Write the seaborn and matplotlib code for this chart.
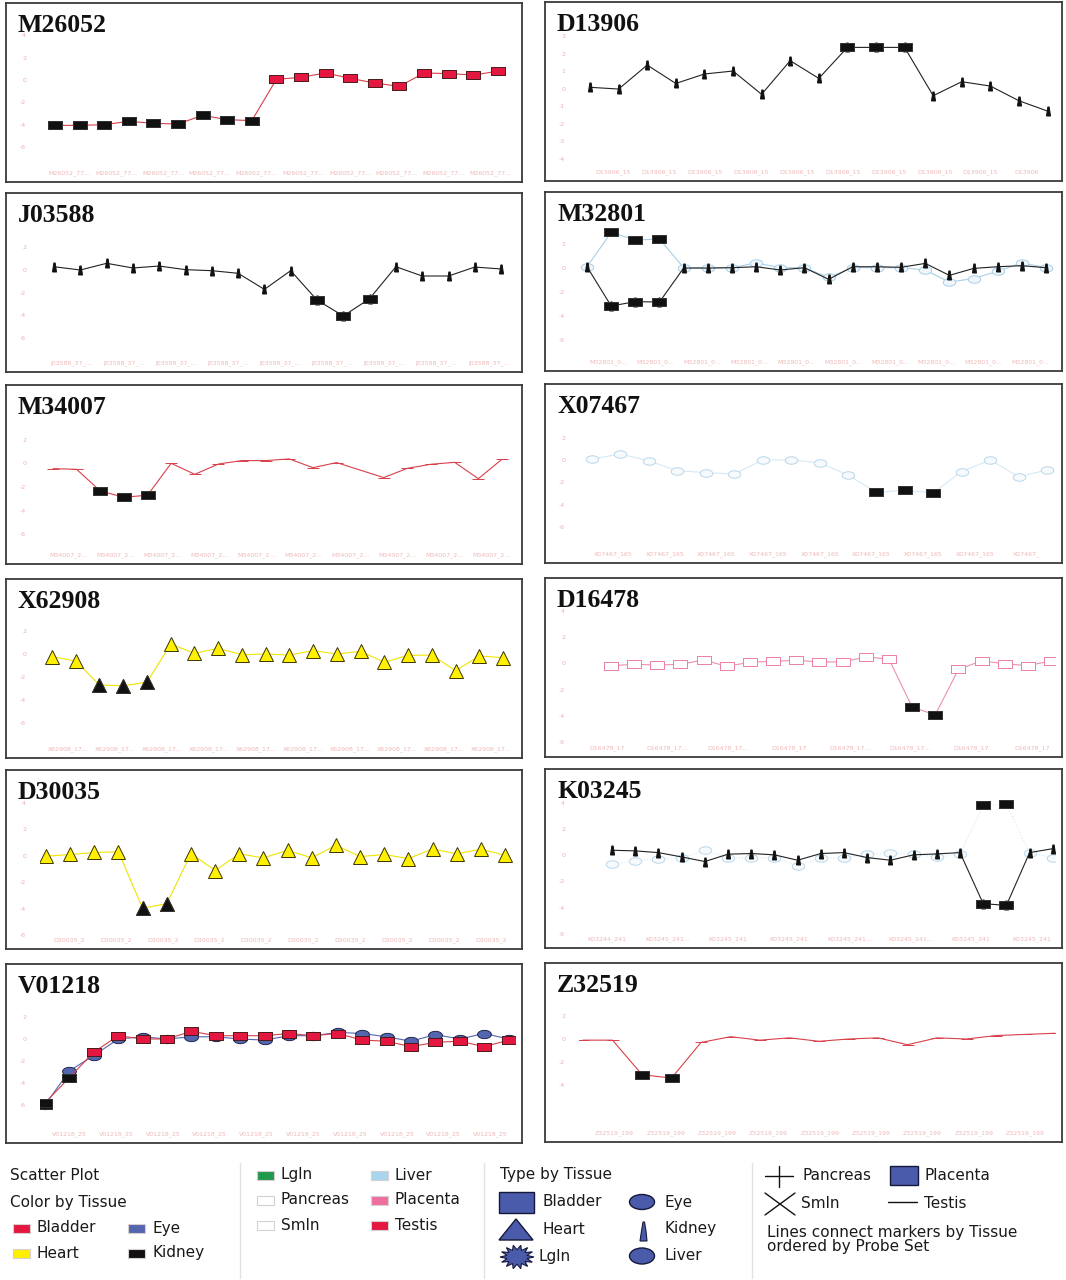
import numpy as np
import pandas as pd
import seaborn as sns
import matplotlib.pyplot as plt
from matplotlib.patches import Rectangle, Polygon, Ellipse

sns.set_theme(style="white")
plt.rcParams['font.family'] = ['DejaVu Sans']

W, H = 1066, 1280

# ---------------------------------------------------------------------------
# data: expression log ratio per probe set, in probe order
# ---------------------------------------------------------------------------
m26052_bladder = [-4.06, -4.06, -4.0, -3.7, -3.88, -3.94, -3.16, -3.55, -3.64,
                  0.06, 0.24, 0.63, 0.15, -0.27, -0.57, 0.63, 0.57, 0.45, 0.78]
m26052_dark = [0, 1, 2, 3, 4, 5, 6, 7, 8]

d13906_kidney = [0.08, -0.02, 1.35, 0.30, 0.84, 1.01, -0.32, 1.60, 0.59,
                 2.36, 2.36, 2.36, -0.40, 0.40, 0.15, -0.69, -1.28]
d13906_dark = [9, 10, 11]

j03588_kidney = [0.29, 0.0, 0.59, 0.18, 0.35, 0.03, -0.06, -0.29, -1.71,
                 -0.06, -2.65, -4.06, -2.53, 0.29, -0.53, -0.53, 0.26, 0.09]
j03588_dark = [10, 11, 12]

m32801_kidney = [0.08, -3.19, -2.83, -2.86, -0.03, -0.03, 0.0, 0.08, -0.19, 0.0,
                 -0.97, 0.08, 0.08, 0.03, 0.36, -0.64, -0.06, 0.08, 0.17, 0.0]
m32801_liver = [0.08, 2.94, 2.31, 2.39, 0.0, 0.0, 0.0, 0.4, 0.0, 0.0,
                -0.8, 0.0, 0.0, 0.0, -0.2, -1.2, -0.9, -0.3, 0.4, 0.0]
m32801_dark = [1, 2, 3]

m34007_probe = [0, 1, 2, 3, 4, 5, 6, 7, 8, 9, 10, 11, 12, 14, 15, 16, 17, 18, 19]
m34007_testis = [-0.45, -0.51, -2.34, -2.87, -2.70, 0.0, -0.93, -0.06, 0.23, 0.23,
                 0.37, -0.37, 0.06, -1.21, -0.42, -0.08, 0.08, -1.30, 0.34]
m34007_dark = [2, 3, 4]

x07467_liver = [0.09, 0.54, -0.09, -0.95, -1.13, -1.25, 0.0, 0.0, -0.24,
                -1.34, -2.89, -2.71, -2.92, -1.04, 0.0, -1.49, -0.89]
x07467_dark = [10, 11, 12]

x62908_heart = [-0.23, -0.61, -2.70, -2.75, -2.46, 0.87, 0.06, 0.49, -0.06, 0.0,
                -0.09, 0.29, 0.0, 0.23, -0.72, -0.12, -0.09, -1.45, -0.17, -0.32]
x62908_dark = [2, 3, 4]

d16478_placenta = [-0.18, -0.08, -0.13, -0.08, 0.25, -0.23, 0.08, 0.15, 0.23, 0.10,
                   0.10, 0.48, 0.33, -3.32, -3.92, -0.46, 0.18, -0.03, -0.18, 0.18]
d16478_dark = [13, 14]

d30035_heart = [-0.05, 0.08, 0.23, 0.28, -3.98, -3.63, 0.15, -1.13, 0.13, -0.18,
                0.40, -0.18, 0.78, -0.08, 0.08, -0.23, 0.50, 0.13, 0.48, 0.03]
d30035_dark = [4, 5]

k03245_kidney = [0.38, 0.33, 0.20, -0.13, -0.48, 0.08, 0.13, 0.03, -0.38, 0.13,
                 0.20, -0.18, -0.38, 0.03, 0.10, 0.20, -3.69, -3.82, 0.20, 0.50]
k03245_liver = [-0.68, -0.43, -0.30, -0.18, 0.38, -0.18, -0.23, -0.18, -0.80, -0.18,
                -0.23, 0.08, 0.20, 0.08, -0.13, 0.08, 3.79, 3.89, 0.20, -0.18]
k03245_dark = [16, 17]

v01218_bladder = [-5.8, -3.5, -1.2, 0.3, 0.0, 0.0, 0.7, 0.3, 0.3, 0.3,
                  0.5, 0.3, 0.5, -0.1, -0.2, -0.7, -0.3, -0.2, -0.7, -0.1]
v01218_eye = [-6.0, -2.9, -1.5, 0.0, 0.2, 0.0, 0.2, 0.2, 0.0, -0.1,
              0.3, 0.3, 0.6, 0.5, 0.2, -0.2, 0.4, 0.0, 0.5, 0.0]
v01218_dark = [0, 1]

z32519_testis = [-0.1, -0.1, -3.1, -3.4, -0.3, 0.2, -0.1, 0.1, -0.2,
                 0.0, 0.1, -0.5, 0.1, 0.0, 0.3, 0.4, 0.5]
z32519_dark = [2, 3]

# probe-set axis labels (truncated as in the viewer)
xlabels = {
    'M26052': ['M26052_77...'] * 10,
    'D13906': ['D13906_15'] * 9 + ['D13906'],
    'J03588': ['J03588_37_...'] * 9,
    'M32801': ['M32801_0...'] * 10,
    'M34007': ['M34007_2...'] * 10,
    'X07467': ['X07467_165'] * 8 + ['X07467_'],
    'X62908': ['X62908_17...'] * 10,
    'D16478': ['D16478_17', 'D16478_17...', 'D16478_17...', 'D16478_17',
               'D16478_17...', 'D16478_17...', 'D16478_17', 'D16478_17'],
    'D30035': ['D30035_2'] * 10,
    'K03245': ['K03244_241', 'K03245_241...', 'K03245_241', 'K03245_241',
               'K03245_241...', 'K03245_241...', 'K03245_241', 'K03245_241'],
    'V01218': ['V01218_25'] * 10,
    'Z32519': ['Z32519_199'] * 9,
}

yticks = {
    'M26052': [4, 2, 0, -2, -4, -6], 'D13906': [4, 3, 2, 1, 0, -1, -2, -3, -4],
    'J03588': [2, 0, -2, -4, -6], 'M32801': [4, 2, 0, -2, -4, -6],
    'M34007': [2, 0, -2, -4, -6], 'X07467': [4, 2, 0, -2, -4, -6],
    'X62908': [2, 0, -2, -4, -6], 'D16478': [4, 2, 0, -2, -4, -6],
    'D30035': [4, 2, 0, -2, -4, -6], 'K03245': [4, 2, 0, -2, -4, -6],
    'V01218': [4, 2, 0, -2, -4, -6], 'Z32519': [2, 0, -2, -4],
}

# ---------------------------------------------------------------------------
# styles
# ---------------------------------------------------------------------------
TISSUE = {
    'Bladder': '#e3173f', 'Eye': '#5566b0', 'Heart': '#fff000', 'Kidney': '#111111',
    'Lgln': '#1f9a4c', 'Pancreas': '#ffffff', 'Smln': '#ffffff',
    'Liver': '#a8d6ef', 'Placenta': '#ee6f9f', 'Testis': '#e3173f',
}

t = np.linspace(0, 2 * np.pi, 25)
ELLIPSE = list(zip(np.cos(t), 0.6 * np.sin(t)))
RECT = [(-1, -0.62), (1, -0.62), (1, 0.62), (-1, 0.62), (-1, -0.62)]
KIDNEY = [(-0.45, -1), (0.45, -1), (0.15, 1), (-0.15, 1), (-0.45, -1)]

STYLE = {
    'bladder': dict(color='#d8404a', marker=RECT, ms=10, mfc=TISSUE['Bladder'], mec='#4a1a1a'),
    'kidney': dict(color='#222222', marker=KIDNEY, ms=6.5, mfc='#111111', mec='#111111'),
    'liver': dict(color='#a9cfe6', marker=ELLIPSE, ms=9, mfc='#eef6fb', mec='#a9cfe6'),
    'liver_faint': dict(color='#d6e9f5', marker=ELLIPSE, ms=9, mfc='#f6fafd', mec='#b9d7ea'),
    'testis': dict(color='#d8404a', marker='_', ms=9, mfc='none', mec='#d8404a'),
    'heart': dict(color='#f0e400', marker='^', ms=10, mfc=TISSUE['Heart'], mec='#3a3300'),
    'placenta': dict(color='#ec8fae', marker=RECT, ms=10, mfc='white', mec='#ec7fa4'),
    'eye': dict(color='#5566b0', marker=ELLIPSE, ms=10, mfc=TISSUE['Eye'], mec='#202850'),
}

# panel layout: column, frame top (px), zero line offset (px), px per unit,
# first probe x (px), probe spacing (px)
LAYOUT = {
    'M26052': (0, 3, 77, 11.17, 55, 24.6),
    'D13906': (1, 2, 86.7, 17.5, 590, 28.6),
    'J03588': (0, 193, 77, 11.33, 54, 26.3),
    'M32801': (1, 192, 75.7, 12.0, 587, 24.16),
    'M34007': (0, 385, 78.3, 11.83, 53, 23.63),
    'X07467': (1, 384, 76, 11.2, 592, 28.44),
    'X62908': (0, 579, 75, 11.5, 52, 23.74),
    'D16478': (1, 578, 85.3, 13.17, 611, 23.16),
    'D30035': (0, 770, 86, 13.33, 46, 24.16),
    'K03245': (1, 769, 87, 13.27, 612, 23.2),
    'V01218': (0, 964, 75, 11.0, 45, 24.4),
    'Z32519': (1, 963, 76, 11.5, 583, 29.5),
}

# series drawn in each panel: (values, probe positions, style, dark-marker indices, linestyle)
SERIES = {
    'M26052': [(m26052_bladder, None, 'bladder', m26052_dark, '-')],
    'D13906': [(d13906_kidney, None, 'kidney', d13906_dark, '-')],
    'J03588': [(j03588_kidney, None, 'kidney', j03588_dark, '-')],
    'M32801': [(m32801_liver, None, 'liver', m32801_dark, '-'),
               (m32801_kidney, None, 'kidney', m32801_dark, '-')],
    'M34007': [(m34007_testis, m34007_probe, 'testis', m34007_dark, '-')],
    'X07467': [(x07467_liver, None, 'liver_faint', x07467_dark, '-')],
    'X62908': [(x62908_heart, None, 'heart', x62908_dark, '-')],
    'D16478': [(d16478_placenta, None, 'placenta', d16478_dark, '-')],
    'D30035': [(d30035_heart, None, 'heart', d30035_dark, '-')],
    'K03245': [(k03245_liver, None, 'liver_faint', k03245_dark, ':'),
               (k03245_kidney, None, 'kidney', k03245_dark, '-')],
    'V01218': [(v01218_eye, None, 'eye', [0], '-'),
               (v01218_bladder, None, 'bladder', v01218_dark, '-')],
    'Z32519': [(z32519_testis, None, 'testis', z32519_dark, '-')],
}

FRAME_X = [(6, 516), (545, 517)]
FRAME_H = 179
INNER_X = [(40, 515), (579, 1055)]
INNER_TOP, INNER_BOT = 15, 165
TITLE_CLEAR = 32   # tick labels above this offset sit behind the panel title


def draw_series(ax, values, probes, style, dark, ls):
    st = STYLE[style]
    x = probes if probes is not None else list(range(len(values)))
    df = pd.DataFrame({'probe': x, 'value': values})
    sns.lineplot(data=df, x='probe', y='value', ax=ax, color=st['color'],
                 lw=0.8, ls=ls, errorbar=None, marker=st['marker'],
                 markersize=st['ms'], markerfacecolor=st['mfc'],
                 markeredgecolor=st['mec'], markeredgewidth=0.7, zorder=2)
    dk = df.iloc[dark]
    dmark = '^' if style == 'heart' else RECT
    ax.plot(dk['probe'], dk['value'], ls='none', marker=dmark, ms=10,
            mfc='#111111', mec='#333333', mew=0.7, zorder=3)


fig = plt.figure(figsize=(W / 100, H / 100), dpi=100)
fig.patch.set_facecolor('white')

for name, (col, top, zero, ppu, p0, d) in LAYOUT.items():
    fx, fw = FRAME_X[col]
    frame = fig.add_axes([fx / W, 1 - (top + FRAME_H) / H, fw / W, FRAME_H / H])
    frame.set_xticks([])
    frame.set_yticks([])
    frame.set_facecolor('white')
    for sp in frame.spines.values():
        sp.set_color('#3a3a3a')
        sp.set_linewidth(1.3)
    frame.text(12 / fw, 1 - 29 / FRAME_H, name, transform=frame.transAxes,
               ha='left', va='baseline', fontfamily='Liberation Serif',
               fontweight='bold', fontsize=18.5, color='#111111')

    ix0, ix1 = INNER_X[col]
    ax = fig.add_axes([ix0 / W, 1 - (top + INNER_BOT) / H,
                       (ix1 - ix0) / W, (INNER_BOT - INNER_TOP) / H])
    ax.set_facecolor('none')
    for s in SERIES[name]:
        draw_series(ax, *s)
    ax.set_xlim((ix0 - p0) / d, (ix1 - p0) / d)
    ax.set_ylim(-(INNER_BOT - zero) / ppu, (zero - INNER_TOP) / ppu)
    ticks = [v for v in yticks[name] if zero - v * ppu >= TITLE_CLEAR]
    ax.set_yticks(ticks)
    ax.set_yticklabels([str(v) for v in ticks])
    labs = xlabels[name]
    lo, hi = ax.get_xlim()
    ax.set_xticks(np.linspace(lo + 1.2, hi - 1.0, len(labs)))
    ax.set_xticklabels(labs)
    ax.tick_params(axis='y', length=0, pad=10, labelsize=4.5, labelcolor='#eeb0b0')
    ax.tick_params(axis='x', length=0, pad=2, labelsize=4.5, labelcolor='#efb8b8')
    ax.set_xlabel('')
    ax.set_ylabel('')
    for sp in ax.spines.values():
        sp.set_visible(False)

# ---------------------------------------------------------------------------
# legend strip
# ---------------------------------------------------------------------------
lg = fig.add_axes([0, 0, 1, 125 / H])
lg.set_xlim(0, W)
lg.set_ylim(1280, 1155)
lg.axis('off')
TXT = dict(fontsize=11, color='#1a1a1a', va='center', ha='left')

lg.text(10, 1175, 'Scatter Plot', **TXT)
lg.text(10, 1202, 'Color by Tissue', **TXT)

swatches = [('Bladder', 13, 1228), ('Eye', 128, 1228), ('Heart', 13, 1253),
            ('Kidney', 128, 1253), ('Lgln', 257, 1175), ('Pancreas', 257, 1200),
            ('Smln', 257, 1225), ('Liver', 371, 1175), ('Placenta', 371, 1200),
            ('Testis', 371, 1225)]
for lab, x, y in swatches:
    lg.add_patch(Rectangle((x, y - 4.5), 17, 9, facecolor=TISSUE[lab],
                           edgecolor='#d8d0d0', lw=0.8))
    lg.text(x + 24, y, lab, **TXT)

for sx in (240, 484, 752):
    lg.plot([sx, sx], [1163, 1278], color='#e2e2e2', lw=1)

BLUE, BEDGE = '#4a5bab', '#15183a'
lg.text(500, 1175, 'Type by Tissue', **TXT)
lg.add_patch(Rectangle((499, 1192), 35, 21, facecolor=BLUE, edgecolor=BEDGE, lw=1))
lg.add_patch(Polygon([(499, 1240), (533, 1240), (516, 1219)], facecolor=BLUE,
                     edgecolor=BEDGE, lw=1))
ang = np.linspace(0, 2 * np.pi, 29)[:-1]
rad = np.where(np.arange(28) % 2 == 0, 1.0, 0.6)
lg.add_patch(Polygon(list(zip(517 + 17 * rad * np.cos(ang), 1257 + 12 * rad * np.sin(ang))),
                     facecolor=BLUE, edgecolor=BEDGE, lw=0.8))
lg.add_patch(Ellipse((642, 1202), 25, 15, facecolor=BLUE, edgecolor=BEDGE, lw=1))
lg.add_patch(Polygon([(640, 1241), (647, 1241), (646, 1231), (644.5, 1222), (643, 1222),
                      (641.5, 1231)], facecolor=BLUE, edgecolor=BEDGE, lw=0.8))
lg.add_patch(Ellipse((642, 1256), 25, 16, facecolor=BLUE, edgecolor=BEDGE, lw=1))
for lab, x, y in [('Bladder', 543, 1202), ('Heart', 543, 1229), ('Lgln', 538, 1256),
                  ('Eye', 665, 1202), ('Kidney', 665, 1229), ('Liver', 665, 1256)]:
    lg.text(x, y, lab, **TXT)

lg.plot([765, 793], [1176, 1176], color='#111111', lw=1)
lg.plot([779, 779], [1166, 1187], color='#111111', lw=1)
lg.plot([765, 795], [1193, 1215], color='#111111', lw=1)
lg.plot([765, 795], [1215, 1193], color='#111111', lw=1)
lg.add_patch(Rectangle((890, 1166), 28, 19, facecolor=BLUE, edgecolor=BEDGE, lw=1))
lg.plot([888, 917], [1202, 1202], color='#111111', lw=1)
for lab, x, y in [('Pancreas', 802, 1175), ('Smln', 801, 1204), ('Placenta', 924, 1175),
                  ('Testis', 924, 1203), ('Lines connect markers by Tissue', 767, 1232),
                  ('ordered by Probe Set', 767, 1246)]:
    lg.text(x, y, lab, **TXT)

fig.savefig('out.png', dpi=100, facecolor='white')
